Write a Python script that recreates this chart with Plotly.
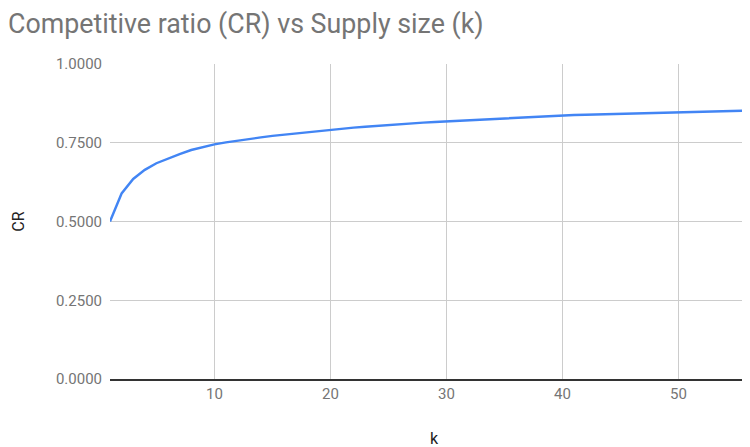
import plotly.graph_objects as go

k_values = list(range(1, 58))
cr_values = [
    0.500, 0.589, 0.635, 0.664, 0.685, 0.700, 0.714, 0.727, 0.736, 0.745,
    0.751, 0.757, 0.762, 0.767, 0.772, 0.776, 0.780, 0.784, 0.788, 0.792,
    0.795, 0.798, 0.801, 0.804, 0.806, 0.809, 0.811, 0.814, 0.816, 0.818,
    0.820, 0.822, 0.824, 0.826, 0.828, 0.830, 0.831, 0.833, 0.835, 0.836,
    0.838, 0.839, 0.840, 0.841, 0.842, 0.843, 0.844, 0.845, 0.846, 0.847,
    0.848, 0.849, 0.850, 0.851, 0.851, 0.852, 0.853,
]
y_ticks = [0, 0.25, 0.5, 0.75, 1.0]
x_ticks = [10, 20, 30, 40, 50]

fig = go.Figure()
fig.add_trace(go.Scatter(
    x=k_values, y=cr_values, mode="lines",
    line=dict(color="#4285F4", width=2.4),
    showlegend=False, hoverinfo="skip",
))

fig.update_layout(
    width=750, height=447,
    margin=dict(l=102, r=0, t=56, b=76),
    paper_bgcolor="white", plot_bgcolor="white",
    font=dict(family="Roboto", color="#757575"),
    title=dict(
        text="Competitive ratio (CR) vs Supply size (k)",
        xref="container", x=0.0, xanchor="left",
        yref="container", y=0.985, yanchor="top",
        font=dict(family="Roboto", size=26.8, color="#757575"),
    ),
    xaxis=dict(
        range=[1, 56.86], tickvals=x_ticks, ticktext=[str(v) for v in x_ticks],
        showgrid=True, gridcolor="#cccccc", gridwidth=1,
        zeroline=False, showline=True, linecolor="#333333", linewidth=1.5,
        ticks="", tickfont=dict(size=15, color="#757575"),
        title=dict(text="k", font=dict(size=16, color="#222222"), standoff=31),
    ),
    yaxis=dict(
        range=[0, 1], tickvals=y_ticks, tickformat=".4f",
        showgrid=True, gridcolor="#cccccc", gridwidth=1,
        zeroline=False, showline=False, ticks="",
        ticklabelstandoff=7,
        tickfont=dict(size=15, color="#757575"),
        title=dict(text="CR", font=dict(size=16, color="#222222"), standoff=27),
    ),
)

fig.write_html("out.html")
